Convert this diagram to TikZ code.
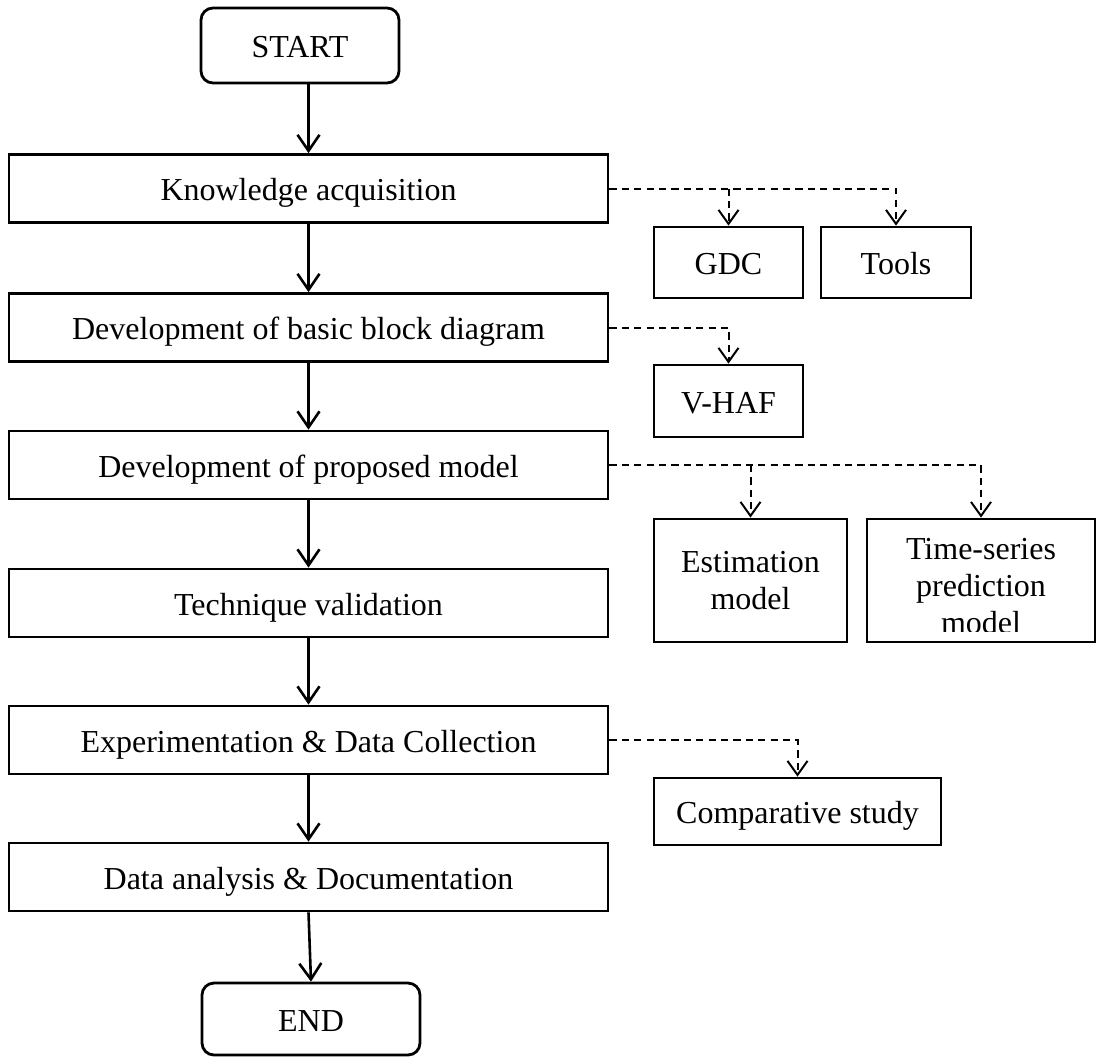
\documentclass[tikz,border=0pt]{standalone}
\usepackage{fontspec}
\setmainfont{Liberation Serif}
\usetikzlibrary{arrows.meta}
\begin{document}
\begin{tikzpicture}[x=0.5pt,y=-0.5pt,
  every node/.style={font=\fontsize{16}{18.5}\selectfont, inner sep=0pt},
  oneline/.style={text height=13pt, text depth=1pt},
  flowbox/.style={draw, line width=1.4pt, oneline, minimum width=299.5pt, minimum height=34pt},
  termbox/.style={draw, line width=1.4pt, oneline, rounded corners=6pt, minimum height=37.5pt},
  sidebox/.style={draw, line width=1.4pt, align=center},
  flow/.style={line width=1.3pt, -{Straight Barb[length=8pt,width=11pt,line width=1.3pt]}},
  aux/.style={line width=1pt, dash pattern=on 3.6pt off 2.6pt,
    -{Straight Barb[length=7pt,width=10pt,line width=1pt]}}
]
\useasboundingbox (0,0) rectangle (1096,1057);

% main column
\node[termbox, minimum width=99pt] (start) at (300,45.5) {START};
\node[flowbox] (know) at (308.5,188.5) {Knowledge acquisition};
\node[flowbox] (block) at (308.5,327.5) {Development of basic block diagram};
\node[flowbox] (model) at (308.5,465) {Development of proposed model};
\node[flowbox] (valid) at (308.5,603) {Technique validation};
\node[flowbox] (exper) at (308.5,740) {Experimentation \& Data Collection};
\node[flowbox] (anal) at (308.5,877) {Data analysis \& Documentation};
\node[termbox, minimum width=109pt, minimum height=36pt] (end) at (311,1019) {END};

% side boxes
\node[sidebox, oneline, minimum width=74.5pt, minimum height=35.5pt] (gdc) at (728.5,262.5) {GDC};
\node[sidebox, oneline, minimum width=75pt, minimum height=35.5pt] (tools) at (896,262.5) {Tools};
\node[sidebox, oneline, minimum width=74.5pt, minimum height=36pt] (vhaf) at (728.5,401) {V-HAF};
\node[sidebox, minimum width=96.5pt, minimum height=61.5pt] (estim) at (750.5,580.5) {Estimation\\model};
\node[sidebox, minimum width=114pt, minimum height=61.5pt] (tsbox) at (981,580.5) {};
\begin{scope}
  \clip (tsbox.north west) rectangle ([yshift=6pt]tsbox.south east);
  \node[align=center] (tstext) at (981,586.3) {Time-series\\prediction\\model};
\end{scope}
\node[sidebox, oneline, minimum width=143.5pt, minimum height=33.5pt] (comp) at (797.5,811.5) {Comparative study};

% main flow
\draw[flow] (start.south -| know.north) -- (know.north);
\draw[flow] (know) -- (block);
\draw[flow] (block) -- (model);
\draw[flow] (model) -- (valid);
\draw[flow] (valid) -- (exper);
\draw[flow] (exper) -- (anal);
\draw[flow] (anal.south) -- (end.north);

% supporting links
\draw[aux] (know.east) -| (tools.north);
\draw[aux] (know.east -| gdc.north) -- (gdc.north);
\draw[aux] (block.east) -| (vhaf.north);
\draw[aux] (model.east) -| (tsbox.north);
\draw[aux] (model.east -| estim.north) -- (estim.north);
\draw[aux] (exper.east) -| (comp.north);
\end{tikzpicture}
\end{document}
